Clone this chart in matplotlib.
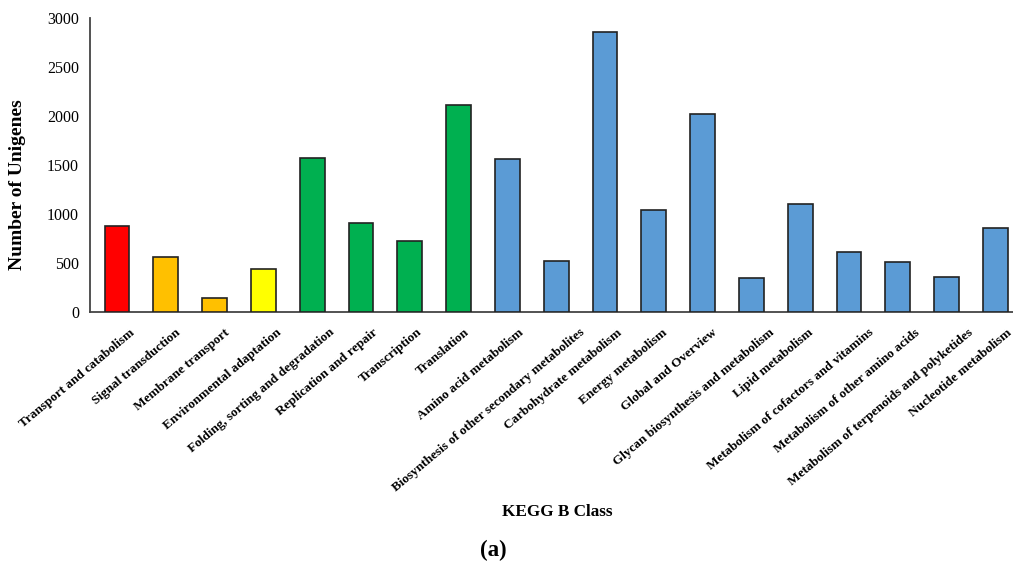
import matplotlib
matplotlib.use("Agg")
import matplotlib.pyplot as plt
from matplotlib.transforms import ScaledTranslation

# KEGG B class counts
categories = [
    "Transport and catabolism", "Signal transduction", "Membrane transport",
    "Environmental adaptation", "Folding, sorting and degradation",
    "Replication and repair", "Transcription", "Translation",
    "Amino acid metabolism", "Biosynthesis of other secondary metabolites",
    "Carbohydrate metabolism", "Energy metabolism", "Global and Overview",
    "Glycan biosynthesis and metabolism", "Lipid metabolism",
    "Metabolism of cofactors and vitamins", "Metabolism of other amino acids",
    "Metabolism of terpenoids and polyketides", "Nucleotide metabolism",
]
counts = [878, 566, 139, 437, 1567, 912, 722, 2112, 1563, 516,
          2855, 1038, 2021, 346, 1106, 613, 512, 353, 855]
groups = ["red", "orange", "orange", "yellow"] + ["green"] * 4 + ["blue"] * 11

group_colors = {"red": "#FF0000", "orange": "#FFC000", "yellow": "#FFFF00",
                "green": "#00B050", "blue": "#5B9BD5"}

plt.rcParams['font.family'] = ['Liberation Serif', 'DejaVu Serif']

W, H = 1013, 563
fig = plt.figure(figsize=(W / 100, H / 100), dpi=100)
# axes from x=90px to right edge, y=18px..312px
ax = fig.add_axes([90 / W, 1 - 312 / H, 1 - 90 / W, (312 - 18) / H])

x = range(len(categories))
ax.bar(x, counts, width=0.51, color=[group_colors[g] for g in groups],
       edgecolor="#222222", linewidth=1.2, zorder=3)

ax.set_xlim(-0.553, 18.36)
ax.set_ylim(0, 3000)
ax.set_yticks(range(0, 3001, 500))
ax.tick_params(axis='y', length=0, labelsize=11.5, pad=8)
ax.tick_params(axis='x', length=0, pad=0)
ax.set_xticks(list(x))
ax.set_xticklabels(categories, rotation=40, ha='right', va='center',
                   rotation_mode='anchor', fontsize=9.5, fontweight='bold')
# excel-like placement: longer labels sit a bit further right
for lab in ax.get_xticklabels():
    dx = (3 + 0.55 * len(lab.get_text())) / 100
    lab.set_transform(lab.get_transform() + ScaledTranslation(dx, -19 / 100, fig.dpi_scale_trans))

for s in ['top', 'right']:
    ax.spines[s].set_visible(False)
for s in ['left', 'bottom']:
    ax.spines[s].set_color('#444444')
    ax.spines[s].set_linewidth(1.3)

fig.text(18 / W, 1 - 185 / H, "Number of Unigenes", rotation=90, ha='center', va='center',
         fontsize=14, fontweight='bold')
fig.text(557 / W, 1 - 512 / H, "KEGG B Class", ha='center', va='center',
         fontsize=12.3, fontweight='bold')
fig.text(493 / W, 1 - 550 / H, "(a)", ha='center', va='center', fontsize=16.5, fontweight='bold')

fig.savefig("out.png", dpi=100)
